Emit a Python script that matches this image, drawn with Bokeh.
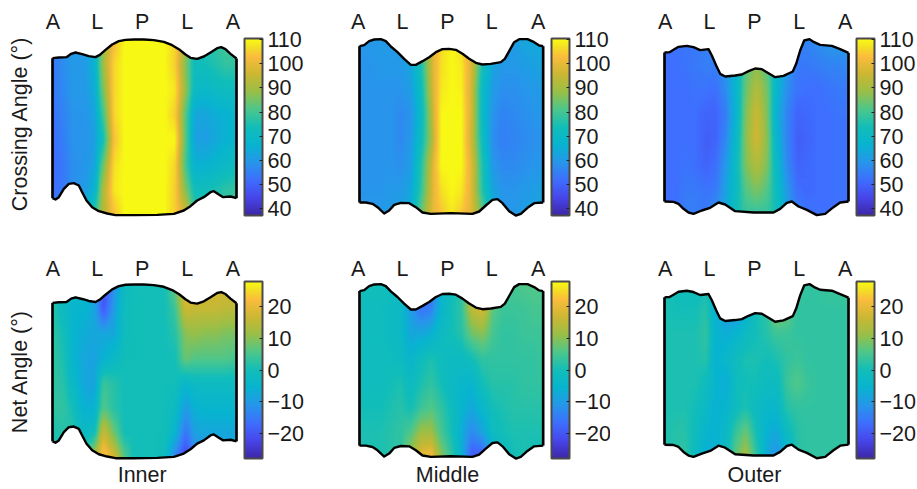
import numpy as np
from bokeh.embed import file_html
from bokeh.layouts import column, row
from bokeh.models import ColorBar, FixedTicker, LinearAxis, LinearColorMapper, Range1d
from bokeh.plotting import figure
from bokeh.resources import INLINE

COLUMNS = ["Inner", "Middle", "Outer"]
REGION_LABELS = ["A", "L", "P", "L", "A"]

region_pos = [[157, 290, 425, 560, 697], [172, 305, 440, 573, 712], [165, 298, 433, 567, 705]]
map_left = [156, 176, 163]
map_right = [708, 727, 715]
center_pos = [425, 440, 433]

inner_top_x = [156,175,198,212,225,245,265,285,298,315,335,355,375,400,430,460,490,515,535,555,570,590,610,630,650,662,675,690,708]
inner_top_y = [173,171,170,160,156,161,167,170,163,148,132,122,118,117,117,119,124,134,146,162,172,175,168,156,143,140,146,160,174]
inner_bot_x = [156,165,175,190,205,220,235,245,258,275,295,320,345,400,470,520,550,570,590,610,630,640,655,668,690,708]
inner_bot_y = [593,597,590,565,550,548,555,575,600,620,632,639,644,644,643,640,630,617,600,590,575,572,582,590,588,593]

middle_top_x = [176,190,205,220,240,255,270,290,310,330,345,365,385,405,425,445,465,485,505,525,545,570,600,612,625,640,655,680,700,715,727]
middle_top_y = [137,134,122,117,116,122,138,155,175,193,193,182,170,155,146,145,148,160,175,187,192,190,185,175,152,125,116,116,125,135,137]
middle_bot_x = [176,195,215,230,250,265,280,300,325,345,365,390,450,515,535,555,575,590,605,625,645,660,680,700,727]
middle_bot_y = [606,606,610,620,639,630,613,607,608,620,636,640,638,640,633,615,598,596,608,632,645,640,622,608,606]

outer_top_x = [163,178,190,205,230,250,270,295,305,318,330,345,375,395,415,435,455,475,495,520,548,558,570,582,598,612,630,665,690,715]
outer_top_y = [156,155,148,139,136,140,149,146,165,195,220,228,225,222,212,204,206,218,230,226,213,190,150,120,116,125,133,136,146,157]
outer_bot_x = [163,190,205,220,235,250,275,300,325,345,375,430,490,510,530,545,565,590,620,645,670,690,715]
outer_bot_y = [603,604,610,625,636,640,630,622,606,612,632,636,636,625,607,603,618,628,644,640,620,606,603]

crossing_inner = [
    [54,58,60,60,66,88,102,110,110,110,110,110,106,92,74,76,78,80,80],
    [54,58,60,60,66,90,106,110,110,110,110,110,105,86,72,74,76,78,78],
    [54,57,60,60,64,86,106,110,110,110,110,110,108,88,71,69,71,72,72],
    [53,56,59,59,62,80,106,110,110,110,110,110,105,82,63,63,65,66,68],
    [52,55,59,59,61,74,103,110,110,110,110,110,110,82,62,61,64,66,68],
    [51,54,58,59,62,84,107,110,110,110,110,110,106,80,66,66,68,70,72],
    [52,54,58,60,66,92,108,110,110,110,110,110,105,86,73,73,75,77,78],
    [55,55,58,62,78,92,103,110,110,110,110,110,105,96,78,79,80,80,80],
]
crossing_middle = [
    [60,60,60,60,61,63,78,98,106,110,106,96,76,65,62,61,63,64,64],
    [59,59,60,60,60,63,75,96,107,110,108,97,74,63,60,60,61,62,63],
    [59,59,59,59,59,61,72,95,108,110,109,96,70,61,58,58,59,60,61],
    [59,59,59,59,57,59,70,92,110,110,110,96,70,59,56,57,58,59,60],
    [59,59,59,59,57,60,72,90,110,110,110,95,72,58,55,56,57,58,59],
    [59,59,59,59,58,61,76,96,110,110,110,98,75,60,57,57,58,59,60],
    [59,59,59,60,60,63,78,97,107,110,108,98,76,63,59,59,60,61,62],
    [60,60,60,61,62,66,84,98,104,108,104,98,84,66,60,60,61,62,63],
]
crossing_outer = [
    [53,53,53,54,55,57,60,68,80,84,80,70,60,55,56,58,60,61,61],
    [52,52,53,54,55,55,60,68,82,87,82,70,60,54,54,55,56,56,57],
    [52,52,52,53,53,52,58,68,84,92,85,68,58,53,52,52,53,54,54],
    [52,52,52,52,50,50,55,68,86,96,86,66,56,50,51,52,52,53,53],
    [52,52,52,52,49,50,57,70,87,97,87,68,56,49,50,52,52,53,53],
    [52,52,53,52,50,52,60,72,86,92,86,70,57,50,51,52,52,53,53],
    [52,52,54,54,53,54,62,72,82,86,82,72,60,52,51,52,52,53,53],
    [52,52,55,55,54,58,64,74,78,78,78,74,62,55,53,52,52,52,52],
]
net_inner = [
    [2,-2,-4,-4,-6,-22,-12,-2,0,0,0,0,8,22,19,18,18,18,18],
    [2,-2,-5,-5,-8,-20,-10,-1,0,0,0,0,4,17,16,16,16,15,15],
    [3,0,-5,-7,-8,-8,-8,-1,0,0,0,0,2,10,11,10,10,9,9],
    [3,1,-5,-8,-9,-6,-3,0,0,0,0,0,0,8,6,6,6,6,5],
    [3,2,-3,-8,-9,4,2,0,0,0,0,0,0,-4,-2,-2,-2,-2,-2],
    [3,3,0,-6,-6,6,2,0,0,0,0,0,-2,-10,-6,-5,-5,-5,-5],
    [1,2,2,-3,-1,17,8,0,0,0,0,0,-5,-16,-9,-8,-8,-8,-8],
    [0,0,0,0,14,24,18,6,0,0,0,-1,-14,-23,-14,-12,-10,-10,-8],
]
net_middle = [
    [0,0,0,-1,-2,-12,-20,-18,-5,-1,3,16,20,8,5,5,6,6,6],
    [-1,-1,-1,-2,-3,-10,-16,-14,-5,0,3,15,18,7,4,4,4,5,5],
    [-1,-1,-1,-2,-3,-8,-8,-6,-2,0,2,8,10,5,3,3,4,4,4],
    [-1,-1,-1,-1,-2,-5,-1,1,-1,-2,-2,0,3,3,3,3,3,3,4],
    [-1,-1,-1,0,1,-2,1,3,0,-3,-4,-5,0,2,2,2,3,3,3],
    [0,0,0,1,2,0,4,6,3,-1,-5,-8,-4,0,1,2,2,2,2],
    [1,1,1,2,3,6,12,12,5,0,-7,-13,-9,-2,0,1,1,1,1],
    [1,1,1,2,3,12,20,22,10,3,-6,-20,-20,-8,-2,0,1,0,0],
]
net_outer = [
    [1,0,-1,-1,0,-6,-11,-14,-5,0,5,13,10,4,3,3,4,4,4],
    [1,0,0,0,2,-6,-10,-12,-6,0,3,11,8,3,3,3,3,3,3],
    [1,1,1,1,3,-5,-7,-5,-2,0,2,4,4,3,3,3,3,3,3],
    [1,1,1,1,2,-6,-4,-1,1,1,0,1,3,4,3,3,3,3,3],
    [1,1,1,1,-1,-5,-7,-1,0,0,-2,-2,4,6,4,3,3,3,3],
    [1,1,1,0,-3,-6,-5,-1,1,-2,-4,-4,2,3,3,3,3,3,3],
    [1,2,2,-1,-5,-6,-3,4,8,0,-6,-8,-2,2,3,3,3,3,3],
    [1,2,3,-2,-7,-7,-2,8,13,3,-8,-12,-5,2,3,3,3,3,3],
]

crossing_ticks = [40, 50, 60, 70, 80, 90, 100, 110]
net_ticks = [-20, -10, 0, 10, 20]

# parula-like colour map
t_anchor = [0, .1, .2, .3, .4, .5, .6, .7, .8, .9, .95, 1]
r_anchor = [.2422,.2803,.2440,.1540,.0297,.0704,.3000,.6000,.8000,.9900,.9600,.9769]
g_anchor = [.1504,.2782,.4358,.5902,.7082,.7457,.7800,.7500,.7200,.7400,.8700,.9839]
b_anchor = [.6603,.9221,.9988,.9218,.8163,.7258,.5500,.2800,.2000,.2400,.1500,.0805]
tt = np.linspace(0, 1, 256)
palette = ["#%02x%02x%02x" % (int(255*r), int(255*g), int(255*b)) for r, g, b in
           zip(np.interp(tt, t_anchor, r_anchor), np.interp(tt, t_anchor, g_anchor), np.interp(tt, t_anchor, b_anchor))]

FONT = "Liberation Sans"
FS = "21.5px"
INK = "#1a1a1a"
Y_BASE = 645

tops = [(inner_top_x, inner_top_y), (middle_top_x, middle_top_y), (outer_top_x, outer_top_y)]
bots = [(inner_bot_x, inner_bot_y), (middle_bot_x, middle_bot_y), (outer_bot_x, outer_bot_y)]
widths = [306, 304, 307]
lefts = [50, 51, 52]
x_starts = [150, 170, 157]


def shaded(values):
    """Interpolated shading of the measured grid, for display only (like MATLAB's 'shading interp')."""
    a = np.array(values, dtype=float)[::-1]
    nr, nc = a.shape
    xi = np.linspace(0, nc - 1, nc * 10)
    yi = np.linspace(0, nr - 1, nr * 10)
    b = np.array([np.interp(xi, np.arange(nc), rw) for rw in a])
    b = np.array([np.interp(yi, np.arange(nr), cl) for cl in b.T]).T
    k = np.ones(3) / 3
    b = np.apply_along_axis(lambda v: np.convolve(np.pad(v, 1, mode="edge"), k, mode="valid"), 1, b)
    b = np.apply_along_axis(lambda v: np.convolve(np.pad(v, 1, mode="edge"), k, mode="valid"), 0, b)
    return b


def panel(c, r, values, low, high, ticks, ylabel, xlabel):
    top_x, top_y = tops[c]
    bot_x, bot_y = bots[c]
    h = 248 if r == 0 else 241
    top_border = 36 if r == 0 else 33
    bot_border = h - top_border - 181
    x0 = x_starts[c]
    p = figure(width=widths[c], height=h, output_backend="svg", toolbar_location=None,
               x_range=Range1d(x0, x0 + 561), y_range=Range1d(-6, 537),
               x_axis_location="above", y_axis_location="left",
               min_border_left=lefts[c], min_border_right=widths[c] - lefts[c] - 187,
               min_border_top=top_border, min_border_bottom=bot_border,
               outline_line_color=None, background_fill_color="white")
    p.grid.visible = False

    ax = p.xaxis[0]
    ax.ticker = FixedTicker(ticks=region_pos[c])
    ax.major_label_overrides = {v: s for v, s in zip(region_pos[c], REGION_LABELS)}
    ax.axis_line_color = None
    ax.major_tick_line_color = None
    ax.minor_tick_line_color = None
    ax.major_tick_out = 0
    ax.major_tick_in = 0
    ax.major_label_standoff = 3 if r == 0 else 1
    ax.major_label_text_font = FONT
    ax.major_label_text_font_size = FS
    ax.major_label_text_color = INK

    ay = p.yaxis[0]
    ay.axis_line_color = None
    ay.major_tick_line_color = None
    ay.minor_tick_line_color = None
    ay.major_tick_out = 0
    ay.major_tick_in = 0
    if ylabel:
        ymid = 264 if r == 1 else 275
        ay.ticker = FixedTicker(ticks=[ymid])
        ay.major_label_overrides = {ymid: ylabel}
        ay.major_label_orientation = "vertical"
        ay.major_label_standoff = 18
        ay.major_label_text_font = FONT
        ay.major_label_text_font_size = FS
        ay.major_label_text_color = INK
    else:
        ay.ticker = FixedTicker(ticks=[])

    if xlabel:
        bx = LinearAxis(ticker=FixedTicker(ticks=[center_pos[c]]),
                        major_label_overrides={center_pos[c]: xlabel},
                        axis_line_color=None, major_tick_line_color=None, minor_tick_line_color=None,
                        major_tick_out=0, major_tick_in=0,
                        major_label_standoff=2, major_label_text_font=FONT,
                        major_label_text_font_size=FS, major_label_text_color=INK)
        p.add_layout(bx, "below")

    mapper = LinearColorMapper(palette=palette, low=low, high=high)
    xl, xr = map_left[c], map_right[c]
    p.image(image=[shaded(values)], x=xl, y=0, dw=xr - xl, dh=530, color_mapper=mapper)

    zt = [Y_BASE - v for v in top_y]
    zb = [Y_BASE - v for v in bot_y]
    p.patch([xl - 4, xl - 4] + top_x + [xr + 4, xr + 4], [540, zt[0]] + zt + [zt[-1], 540],
            fill_color="white", line_color=None)
    p.patch([xl - 4, xl - 4] + bot_x + [xr + 4, xr + 4], [-10, zb[0]] + zb + [zb[-1], -10],
            fill_color="white", line_color=None)
    p.line(top_x, zt, line_color="black", line_width=2.4, line_join="round", level="overlay")
    p.line(bot_x, zb, line_color="black", line_width=2.4, line_join="round", level="overlay")
    # side edges of the outline, as thin bars above the map
    p.quad(left=[xl - 4, xr - 4], right=[xl + 4, xr + 4], top=[zt[0], zt[-1]], bottom=[zb[0], zb[-1]],
           fill_color="black", line_color=None, level="overlay")

    cb = ColorBar(color_mapper=mapper, ticker=FixedTicker(ticks=ticks), width=18, height=177,
                  location=(194, 2), margin=0, padding=0,
                  major_label_overrides={v: str(v).replace("-", "\u2212") for v in ticks},
                  major_label_text_font=FONT, major_label_text_font_size=FS,
                  major_label_text_color=INK, major_tick_line_color="#222222", major_tick_in=3,
                  minor_tick_line_color=None, bar_line_color="#4a4a4a", bar_line_width=2,
                  label_standoff=5, background_fill_color=None, border_line_color=None)
    p.add_layout(cb)
    return p


row1 = [panel(i, 0, v, 37.3, 110.4, crossing_ticks, "Crossing Angle (°)" if i == 0 else None, None)
        for i, v in enumerate([crossing_inner, crossing_middle, crossing_outer])]
row2 = [panel(i, 1, v, -28, 28, net_ticks, "Net Angle (°)" if i == 0 else None, COLUMNS[i])
        for i, v in enumerate([net_inner, net_middle, net_outer])]
layout = column(row(*row1, spacing=0), row(*row2, spacing=0), spacing=0)
open("out.html", "w").write(file_html(layout, INLINE))
